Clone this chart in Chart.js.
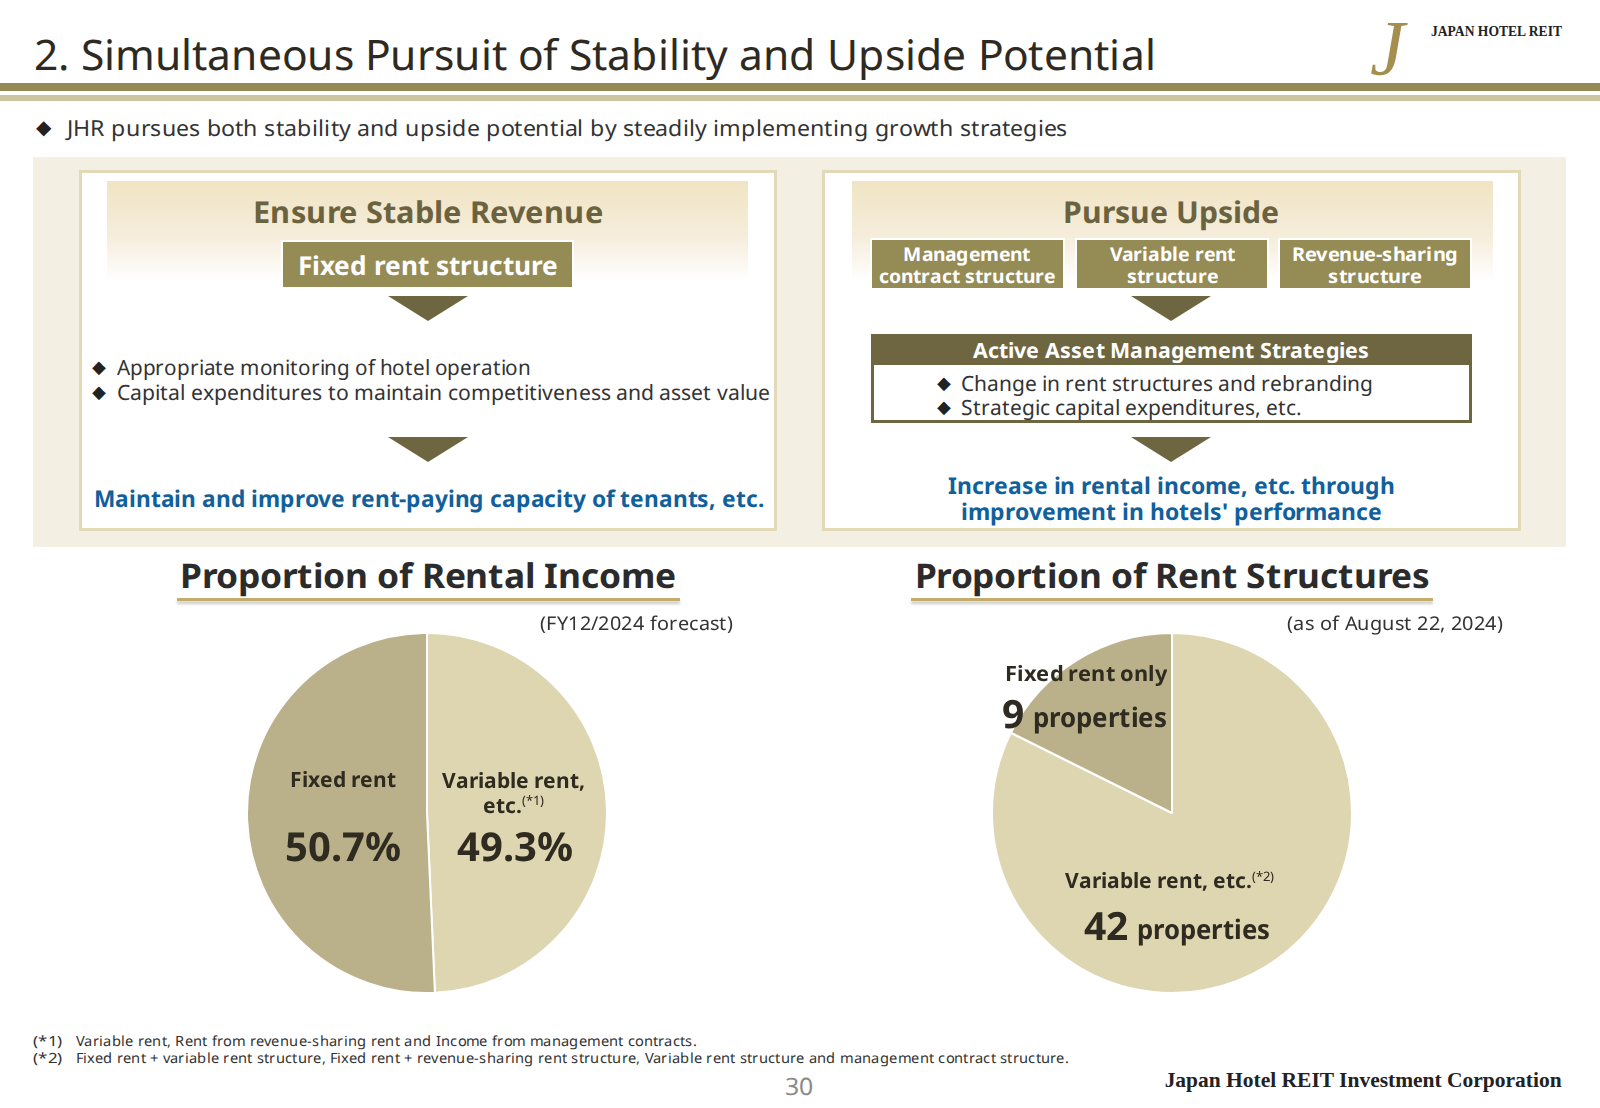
<!DOCTYPE html>
<html>
<head>
<meta charset="utf-8">
<script src="https://cdn.jsdelivr.net/npm/chart.js"></script>
<style>
  /* same glyphs as Noto Sans, tighter line box so close lines do not overlap */
  @font-face { font-family: "NS"; font-weight: 400; src: local("Noto Sans"), local("NotoSans-Regular");
               ascent-override: 89%; descent-override: 11%; line-gap-override: 0%; }
  @font-face { font-family: "NS"; font-weight: 700; src: local("Noto Sans Bold"), local("NotoSans-Bold");
               ascent-override: 89%; descent-override: 11%; line-gap-override: 0%; }
  html, body { margin: 0; padding: 0; background: #fff; }
  #page { position: relative; width: 1600px; height: 1108px; overflow: hidden; background: #fff;
          font-family: "NS", "Noto Sans", "DejaVu Sans", sans-serif; }
  .t { position: absolute; white-space: nowrap; display: inline-block; }
  .r { position: absolute; box-sizing: border-box; }
  .tri { position: absolute; width: 0; height: 0; border-left: 40px solid transparent;
         border-right: 40px solid transparent; border-top: 25px solid #6e6640; }
  .pie { position: absolute; width: 362px; height: 362px; }
</style>
</head>
<body>
<div id="page">
  <!-- header rules -->
  <div class="r" style="left:0;top:83px;width:1600px;height:8px;background:#948a54"></div>
  <div class="r" style="left:0;top:95px;width:1600px;height:6px;background:#cdc59f"></div>

  <!-- beige panel with two white boxes -->
  <div class="r" style="left:33px;top:157px;width:1533px;height:390px;background:#f3f0e3"></div>
  <div class="r" style="left:79px;top:170px;width:698px;height:361px;background:#fff;border:3px solid #e2d9b9"></div>
  <div class="r" style="left:822px;top:170px;width:699px;height:361px;background:#fff;border:3px solid #e2d9b9"></div>
  <div class="r" style="left:107px;top:181px;width:641px;height:100px;background:linear-gradient(#f1e4c4,#f5eddb 55%,#fff)"></div>
  <div class="r" style="left:852px;top:181px;width:641px;height:100px;background:linear-gradient(#f1e4c4,#f5eddb 55%,#fff)"></div>

  <!-- olive label boxes -->
  <div class="r" style="left:283px;top:242px;width:289px;height:45px;background:#958b55;outline:2px solid #fff"></div>
  <div class="r" style="left:872px;top:240px;width:191px;height:48px;background:#958b55;outline:2px solid #fff"></div>
  <div class="r" style="left:1077px;top:240px;width:190px;height:48px;background:#958b55;outline:2px solid #fff"></div>
  <div class="r" style="left:1280px;top:240px;width:190px;height:48px;background:#958b55;outline:2px solid #fff"></div>

  <!-- active asset management box -->
  <div class="r" style="left:871px;top:334px;width:601px;height:89px;background:#fff;border:3px solid #6e6640"></div>
  <div class="r" style="left:871px;top:334px;width:601px;height:31px;background:#6e6640"></div>

  <!-- arrows -->
  <div class="tri" style="left:388px;top:296px"></div>
  <div class="tri" style="left:388px;top:437px"></div>
  <div class="tri" style="left:1131px;top:296px"></div>
  <div class="tri" style="left:1131px;top:437px"></div>

  <!-- section underlines -->
  <div class="r" style="left:177px;top:598px;width:503px;height:3px;background:#c4ad6c;box-shadow:0 3px 3px rgba(0,0,0,0.22)"></div>
  <div class="r" style="left:911px;top:598px;width:522px;height:3px;background:#c4ad6c;box-shadow:0 3px 3px rgba(0,0,0,0.22)"></div>

  <!-- pies -->
  <div class="pie" style="left:246px;top:632px"><canvas id="rentalPie"></canvas></div>
  <div class="pie" style="left:991px;top:632px"><canvas id="structurePie"></canvas></div>
</div>

<script>
// Proportion of Rental Income (FY12/2024 forecast), drawn clockwise from 12 o'clock
const rentalLabels = ["Variable rent, etc.", "Fixed rent"];
const rentalValues = [49.3, 50.7];

// Proportion of Rent Structures (as of August 22, 2024), number of properties
const structureLabels = ["Variable rent, etc.", "Fixed rent only"];
const structureCounts = [42, 9];

const pieColors = ["#ded5b1", "#bab089"];

const page = document.getElementById("page");

// place a text span; cy = visual centre of first line, w = width to squeeze the widest line into
function T(text, x, cy, size, o = {}) {
  const el = document.createElement("span");
  el.className = "t";
  if (o.html) el.innerHTML = o.html; else el.textContent = text;
  const lh = o.lh || size * 1.1;
  el.style.fontSize = size + "px";
  el.style.lineHeight = lh + "px";
  el.style.top = (cy - lh / 2) + "px";
  el.style.fontWeight = o.bold ? "700" : "400";
  el.style.color = o.color || "#333";
  if (o.font) el.style.fontFamily = o.font;
  if (o.italic) el.style.fontStyle = "italic";
  if (o.pad) el.style.paddingRight = o.pad + "px";
  const align = o.align || "left";
  el.style.textAlign = align;
  page.appendChild(el);
  const nat = el.getBoundingClientRect().width;
  const left = align === "left" ? x : align === "center" ? x - nat / 2 : x - nat;
  el.style.left = left + "px";
  if (o.w) {
    el.style.transformOrigin = align === "left" ? "left center" : align === "right" ? "right center" : "center center";
    el.style.transform = `scaleX(${o.w / nat})`;
  }
  return el;
}

const sup = s => `<span style="font-size:0.62em;font-weight:400;position:relative;top:-0.55em">${s}</span>`;
const DIA = "\u25C6";

function draw() {
  // header
  T("2. Simultaneous Pursuit of Stability and Upside Potential", 34, 54, 42, { w: 1122, color: "#2e2a22" });
  T("J", 1370, 48, 78, { font: "Liberation Serif", italic: true, color: "#a48f4f", pad: 22 });
  T("JAPAN HOTEL REIT", 1431, 32, 14, { font: "Liberation Serif", bold: true, w: 131, color: "#222" });

  T(DIA, 36, 127, 20, { font: "DejaVu Sans", color: "#222" });
  T("JHR pursues both stability and upside potential by steadily implementing growth strategies", 67, 127, 22, { w: 1001 });

  // left box
  T("Ensure Stable Revenue", 428, 211, 30, { bold: true, align: "center", w: 350, color: "#6b6340" });
  T("Fixed rent structure", 428, 265, 26, { bold: true, align: "center", w: 260, color: "#fff" });
  T(DIA, 92, 367, 18, { font: "DejaVu Sans", color: "#222" });
  T(DIA, 92, 392, 18, { font: "DejaVu Sans", color: "#222" });
  T("Appropriate monitoring of hotel operation", 117, 367, 21, { w: 414 });
  T("Capital expenditures to maintain competitiveness and asset value", 117, 392, 21, { w: 653 });
  T("Maintain and improve rent-paying capacity of tenants, etc.", 428, 499, 23, { bold: true, align: "center", w: 670, color: "#10609c" });

  // right box
  T("Pursue Upside", 1171, 211, 30, { bold: true, align: "center", w: 217, color: "#6b6340" });
  T("", 967, 254, 19, { bold: true, align: "center", lh: 22, w: 177, color: "#fff", html: "Management<br>contract structure" });
  T("", 1172, 254, 19, { bold: true, align: "center", lh: 22, w: 126, color: "#fff", html: "Variable rent<br>structure" });
  T("", 1375, 254, 19, { bold: true, align: "center", lh: 22, w: 166, color: "#fff", html: "Revenue-sharing<br>structure" });
  T("Active Asset Management Strategies", 1171, 350, 21, { bold: true, align: "center", w: 397, color: "#fff" });
  T("", 937, 383, 18, { font: "DejaVu Sans", color: "#222", lh: 24, html: DIA + "<br>" + DIA });
  T("", 961, 383, 21, { lh: 24, w: 412, html: "Change in rent structures and rebranding<br>Strategic capital expenditures, etc." });
  T("", 1171, 486, 23, { bold: true, align: "center", lh: 26, w: 447, color: "#10609c",
    html: "Increase in rental income, etc. through<br>improvement in hotels' performance" });

  // section titles
  T("Proportion of Rental Income", 428, 576, 34, { bold: true, align: "center", w: 496, color: "#2b2b2b" });
  T("Proportion of Rent Structures", 1172, 576, 34, { bold: true, align: "center", w: 515, color: "#2b2b2b" });
  T("(FY12/2024 forecast)", 733, 623, 19, { align: "right", w: 193 });
  T("(as of August 22, 2024)", 1503, 623, 19, { align: "right", w: 216 });

  // pie labels
  const dark = "#2f2b20";
  T(rentalLabels[1], 343, 779, 21, { bold: true, align: "center", color: dark });
  T(rentalValues[1].toFixed(1) + "%", 343, 845, 40, { bold: true, align: "center", color: dark });
  T("", 513, 779, 21, { bold: true, align: "center", lh: 25, color: dark, html: "Variable rent,<br>etc." + sup("(*1)") });
  T(rentalValues[0].toFixed(1) + "%", 515, 845, 40, { bold: true, align: "center", color: dark });

  T(structureLabels[1], 1167, 673, 21, { bold: true, align: "right", w: 162, color: dark });
  T(String(structureCounts[1]), 1002, 713, 39, { bold: true, color: dark });
  T("properties", 1167, 717, 27, { bold: true, align: "right", w: 134, color: dark });
  T("", 1065, 880, 21, { bold: true, color: dark, html: structureLabels[0] + sup("(*2)") });
  T(String(structureCounts[0]), 1084, 925, 39, { bold: true, color: dark });
  T("properties", 1137, 929, 27, { bold: true, w: 133, color: dark });

  // footnotes and footer
  T("", 33, 1041, 14, { lh: 17, w: 29, html: "(*1)<br>(*2)" });
  T("", 76, 1041, 14, { lh: 17, w: 993, html: "Variable rent, Rent from revenue-sharing rent and Income from management contracts.<br>" +
    "Fixed rent + variable rent structure, Fixed rent + revenue-sharing rent structure, Variable rent structure and management contract structure." });
  T("30", 799, 1086, 24, { align: "center", w: 29, color: "#8a8a8a" });
  T("Japan Hotel REIT Investment Corporation", 1562, 1080, 22, { font: "Liberation Serif", bold: true, align: "right", w: 397, color: "#222" });
}

function makePie(id, labels, values) {
  const ctx = document.getElementById(id).getContext("2d");
  return new Chart(ctx, {
    type: "pie",
    data: {
      labels: labels,
      datasets: [{
        data: values,
        backgroundColor: pieColors,
        borderColor: "#fff",
        borderWidth: 2
      }]
    },
    options: {
      responsive: true,
      maintainAspectRatio: false,
      animation: false,
      layout: { padding: 0 },
      plugins: { legend: { display: false }, tooltip: { enabled: false } }
    }
  });
}

makePie("rentalPie", rentalLabels, rentalValues);
makePie("structurePie", structureLabels, structureCounts);

// measure text only once the local font faces are in
Promise.all([document.fonts.load('400 20px "NS"'), document.fonts.load('700 20px "NS"')])
  .catch(() => {})
  .then(draw);
</script>
</body>
</html>
